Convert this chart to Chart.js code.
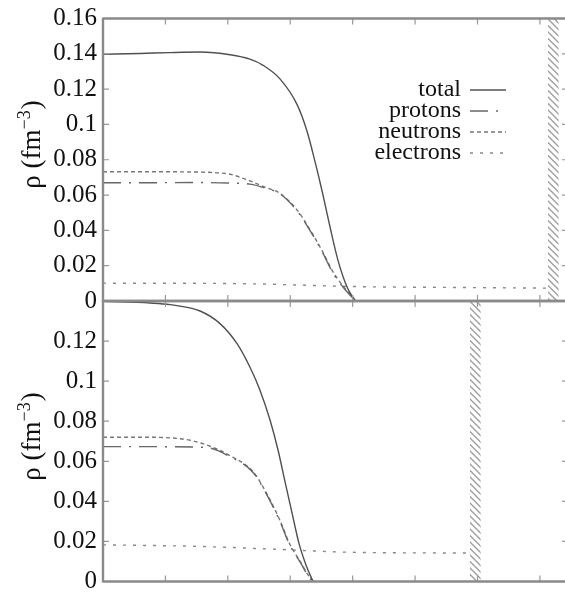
<!DOCTYPE html>
<html>
<head>
<meta charset="utf-8">
<script src="https://cdn.jsdelivr.net/npm/chart.js@4.4.1/dist/chart.umd.min.js"></script>
<style>
  html, body { margin: 0; padding: 0; background: #fff; overflow: hidden; }
  #wrap { position: relative; width: 565px; height: 595px; overflow: hidden; }
  #wrap canvas { position: absolute; left: 0; top: 0; }
</style>
</head>
<body>
<div id="wrap">
  <canvas id="upper" width="570" height="600"></canvas>
  <canvas id="lower" width="570" height="600"></canvas>
</div>
<script>
// 密度分布 ρ(r)，r 以 fm 计

// 上图
const upTotalR = [0, 1.19, 2.15, 3.11, 4.07, 4.71, 5.13, 5.67, 6.22, 6.54, 6.79, 7.02, 7.28, 7.53, 7.82, 8.08];
const upTotal  = [0.1397, 0.1402, 0.1407, 0.1410, 0.1395, 0.1370, 0.1335, 0.1258, 0.1112, 0.0960, 0.0792, 0.0623, 0.0415, 0.0230, 0.0079, 0];
const upProtonR = [0, 1.51, 3.11, 4.07, 4.71, 5.19, 5.67, 6.22, 6.63, 7.05, 7.37, 7.69, 8.01, 8.11];
const upProton  = [0.0670, 0.0670, 0.0671, 0.0668, 0.0662, 0.0640, 0.0607, 0.0510, 0.0400, 0.0270, 0.0157, 0.0079, 0.0015, 0];
const upNeutronR = [0, 1.51, 3.11, 3.75, 4.07, 4.71, 5.19, 5.67, 6.22, 6.63, 7.05, 7.37, 7.69, 8.01, 8.11];
const upNeutron  = [0.0732, 0.0732, 0.0730, 0.0725, 0.0718, 0.0680, 0.0645, 0.0610, 0.0515, 0.0405, 0.0275, 0.0165, 0.0085, 0.0020, 0];
const upElectronR = [0, 4.07, 8.33, 11.0, 14.26];
const upElectron  = [0.0101, 0.0099, 0.0081, 0.0077, 0.0073];

// 下图
const loTotalR = [0, 1.51, 2.15, 3.11, 3.75, 4.29, 4.71, 5.03, 5.35, 5.61, 5.83, 6.06, 6.28, 6.51, 6.73];
const loTotal  = [0.1398, 0.1390, 0.1382, 0.1350, 0.1287, 0.1188, 0.1069, 0.0955, 0.0807, 0.0655, 0.0500, 0.0340, 0.0190, 0.0080, 0];
const loProtonR = [0, 1.51, 3.11, 3.43, 4.07, 4.81, 5.26, 5.67, 5.99, 6.31, 6.63, 6.76];
const loProton  = [0.0673, 0.0673, 0.0670, 0.0666, 0.0623, 0.0544, 0.0430, 0.0300, 0.0180, 0.0099, 0.0015, 0];
const loNeutronR = [0, 1.51, 2.31, 2.79, 3.43, 4.07, 4.81, 5.26, 5.67, 5.99, 6.31, 6.63, 6.76];
const loNeutron  = [0.0720, 0.0720, 0.0715, 0.0705, 0.0675, 0.0628, 0.0548, 0.0435, 0.0305, 0.0185, 0.0102, 0.0020, 0];
const loElectronR = [0, 3.11, 5.67, 7.9, 11.76];
const loElectron  = [0.0183, 0.0175, 0.0160, 0.0146, 0.0142];

// 元胞边界（阴影带起点）
const upCellEdge = 14.26;
const loCellEdge = 11.76;
const cellWidth = 0.34;

// 刻度
const xTicks = [2, 4, 6, 8, 10, 12, 14];
const upYTicks = [0, 0.02, 0.04, 0.06, 0.08, 0.1, 0.12, 0.14, 0.16];
const loYTicks = [0, 0.02, 0.04, 0.06, 0.08, 0.1, 0.12, 0.14];

const seriesNames = ['total', 'protons', 'neutrons', 'electrons'];
const serif = '"Liberation Serif", "DejaVu Serif", serif';

const pts = (rs, vs) => rs.map((r, i) => ({ x: r, y: vs[i] }));

function makeDatasets(sets) {
  const styles = [
    { color: '#505050', dash: [] },
    { color: '#666', dash: [18, 8, 2, 8] },
    { color: '#777', dash: [4, 3] },
    { color: '#888', dash: [3, 7] }
  ];
  return sets.map((s, i) => ({
    label: seriesNames[i],
    data: pts(s[0], s[1]),
    borderColor: styles[i].color,
    borderDash: styles[i].dash,
    borderWidth: 1.4,
    pointRadius: 0,
    cubicInterpolationMode: 'monotone',
    fill: false
  }));
}

// 边框、内向刻度、阴影带、轴标题和图例
const framePlugin = {
  id: 'frame',
  afterDatasetsDraw(chart, args, opts) {
    const { ctx, chartArea: a, scales: { x, y } } = chart;

    // 阴影带
    const x0 = x.getPixelForValue(opts.cellEdge);
    const x1 = x.getPixelForValue(opts.cellEdge + cellWidth);
    ctx.save();
    ctx.beginPath();
    ctx.rect(x0, a.top, x1 - x0, a.bottom - a.top);
    ctx.clip();
    ctx.strokeStyle = '#a0a0a0';
    ctx.lineWidth = 1.5;
    for (let yy = a.top - 20; yy < a.bottom + 20; yy += 6.5) {
      ctx.beginPath();
      ctx.moveTo(x0 - 1, yy);
      ctx.lineTo(x1 + 1, yy + (x1 - x0) + 2);
      ctx.stroke();
    }
    ctx.restore();

    ctx.save();
    // 刻度
    ctx.strokeStyle = '#999';
    ctx.lineWidth = 1.2;
    ctx.beginPath();
    opts.yTicks.forEach(v => {
      const py = y.getPixelForValue(v);
      ctx.moveTo(a.left, py); ctx.lineTo(a.left + 6, py);
      ctx.moveTo(a.right, py); ctx.lineTo(a.right - 6, py);
    });
    xTicks.forEach(v => {
      const px = x.getPixelForValue(v);
      ctx.moveTo(px, a.top); ctx.lineTo(px, a.top + 6);
      ctx.moveTo(px, a.bottom); ctx.lineTo(px, a.bottom - 6);
    });
    ctx.stroke();

    // 边框
    ctx.strokeStyle = '#8a8a8a';
    ctx.lineWidth = 2.4;
    ctx.beginPath();
    ctx.moveTo(a.left, a.top); ctx.lineTo(a.right, a.top);
    ctx.moveTo(a.left, a.bottom); ctx.lineTo(a.right, a.bottom);
    ctx.moveTo(a.left, a.top - 1); ctx.lineTo(a.left, a.bottom + 1);
    ctx.moveTo(a.right, a.top); ctx.lineTo(a.right, a.bottom);
    ctx.stroke();

    // y 轴标题 ρ (fm^-3)
    ctx.fillStyle = '#111';
    ctx.textBaseline = 'alphabetic';
    ctx.textAlign = 'left';
    const bigFont = '27px ' + serif, supFont = '18px ' + serif;
    ctx.font = bigFont;
    const w1 = ctx.measureText('ρ (fm').width;
    const w3 = ctx.measureText(')').width;
    ctx.font = supFont;
    const w2 = ctx.measureText('−3').width;
    ctx.translate(40, opts.titleY);
    ctx.rotate(-Math.PI / 2);
    let tx = -(w1 + w2 + w3) / 2;
    ctx.font = bigFont;
    ctx.fillText('ρ (fm', tx, 0);
    ctx.font = supFont;
    ctx.fillText('−3', tx + w1, -10);
    ctx.font = bigFont;
    ctx.fillText(')', tx + w1 + w2 + 1, 0);
    ctx.restore();

    // 图例：文字在左，线样在右
    if (opts.legend) {
      ctx.save();
      ctx.font = '24px ' + serif;
      ctx.textAlign = 'right';
      ctx.textBaseline = 'alphabetic';
      chart.data.datasets.forEach((ds, i) => {
        const by = 96 + 21 * i;
        ctx.fillStyle = '#111';
        ctx.fillText(ds.label, 461, by);
        ctx.strokeStyle = ds.borderColor;
        ctx.lineWidth = ds.borderWidth;
        ctx.setLineDash(ds.borderDash);
        ctx.beginPath();
        ctx.moveTo(470, by - 6);
        ctx.lineTo(506, by - 6);
        ctx.stroke();
      });
      ctx.restore();
    }
  }
};

function makeChart(id, datasets, yMax, yTickList, pad, frameOpts) {
  return new Chart(document.getElementById(id), {
    type: 'line',
    data: { datasets },
    plugins: [framePlugin],
    options: {
      responsive: false,
      animation: false,
      layout: { padding: pad },
      plugins: {
        legend: { display: false },
        tooltip: { enabled: false },
        frame: Object.assign({ yTicks: yTickList }, frameOpts)
      },
      scales: {
        x: {
          type: 'linear',
          min: 0,
          max: 14.9,
          display: false
        },
        y: {
          min: 0,
          max: yMax,
          afterFit: scale => { scale.width = 103; },
          afterBuildTicks: scale => {
            scale.ticks = yTickList.map(v => ({ value: v }));
          },
          grid: { display: false, drawTicks: false },
          border: { display: false },
          ticks: {
            padding: 6,
            color: '#111',
            font: { family: serif, size: 25, lineHeight: 1 },
            callback: v => (frameOpts.hideTop && Math.abs(v - yMax) < 1e-9) ? '' : String(+v.toFixed(2))
          }
        }
      }
    }
  });
}

makeChart('upper',
  makeDatasets([[upTotalR, upTotal], [upProtonR, upProton], [upNeutronR, upNeutron], [upElectronR, upElectron]]),
  0.16, upYTicks,
  { top: 16, bottom: 299, left: 0, right: 2 },
  { cellEdge: upCellEdge, titleY: 145, legend: true, hideTop: false });

makeChart('lower',
  makeDatasets([[loTotalR, loTotal], [loProtonR, loProton], [loNeutronR, loNeutron], [loElectronR, loElectron]]),
  0.14, loYTicks,
  { top: 301, bottom: 17, left: 0, right: 2 },
  { cellEdge: loCellEdge, titleY: 437, legend: false, hideTop: true });
</script>
</body>
</html>
